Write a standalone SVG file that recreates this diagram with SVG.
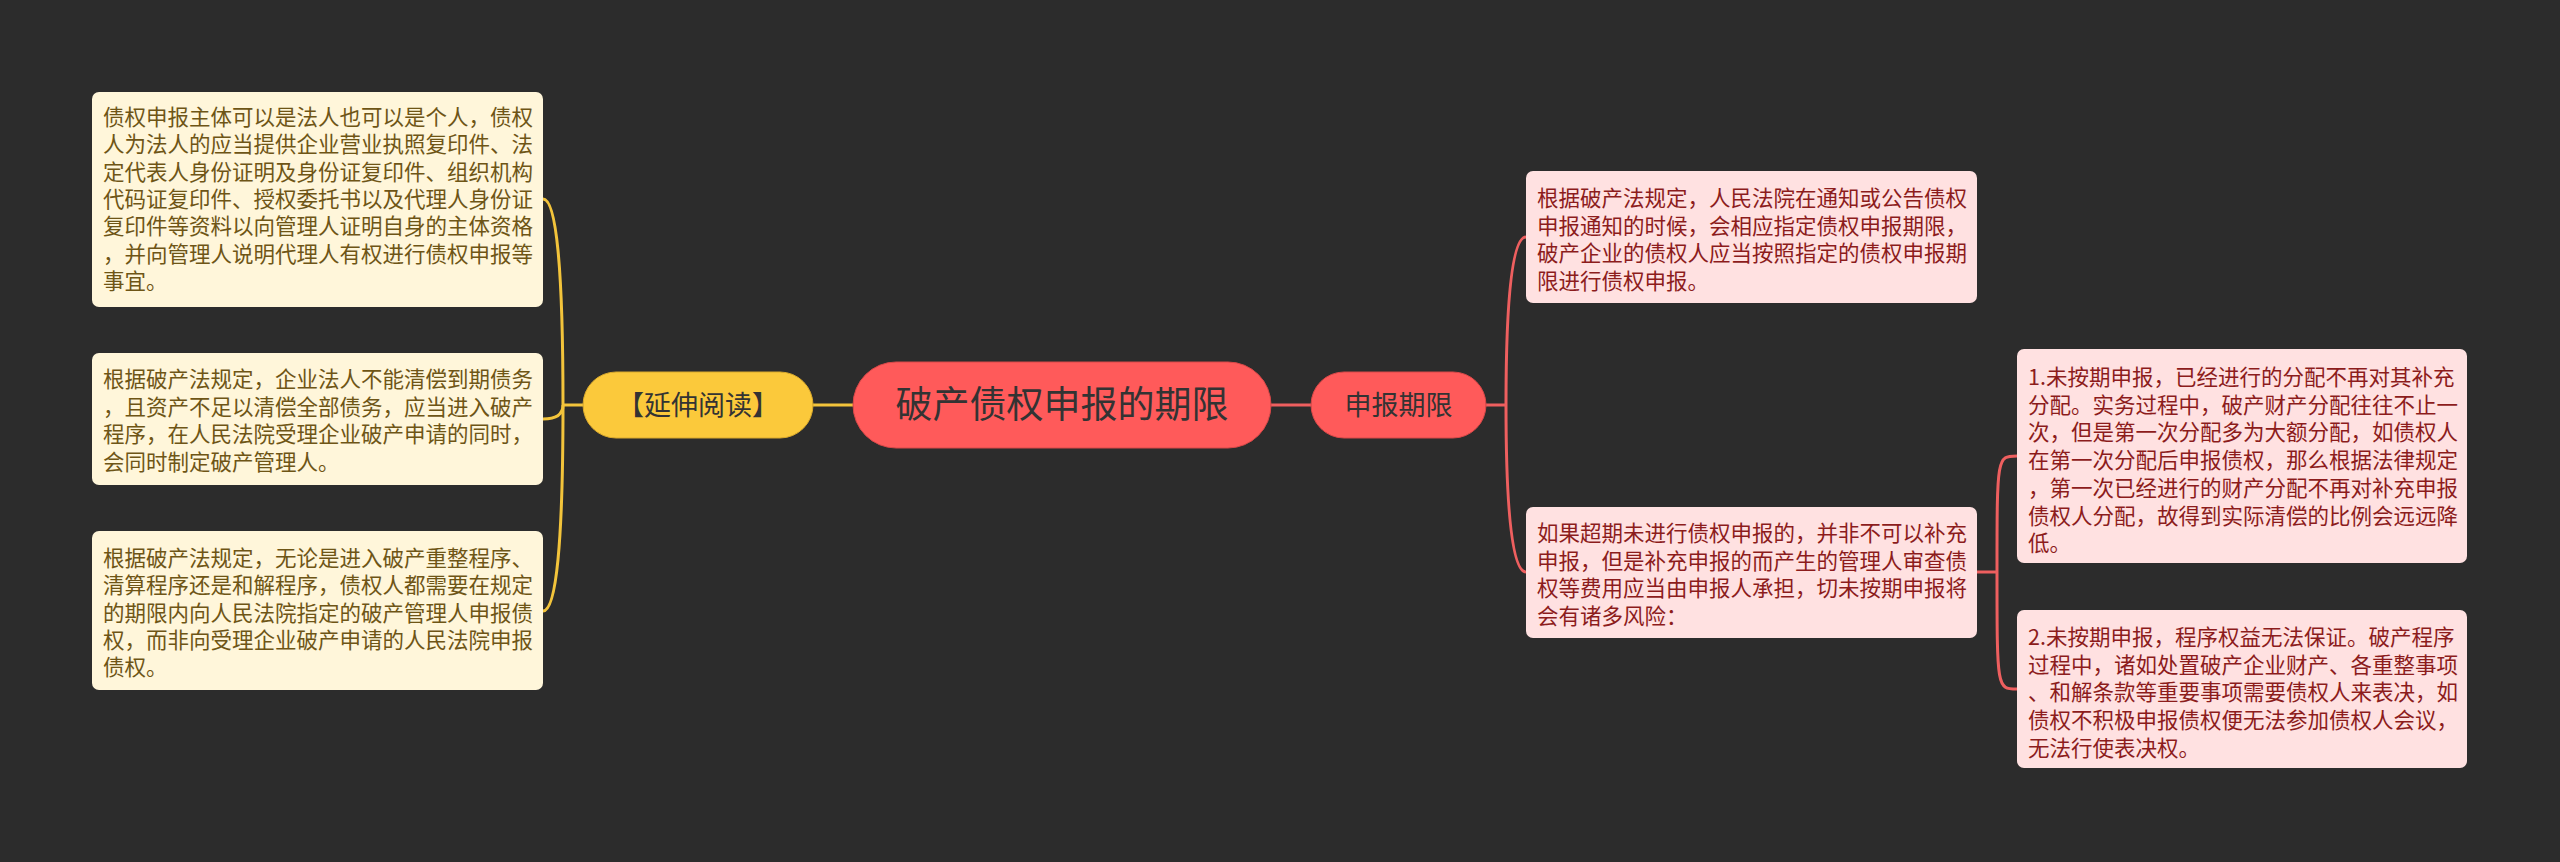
<svg xmlns="http://www.w3.org/2000/svg" width="2560" height="862" viewBox="0 0 2560 862">
<style>
.bg{fill:#2c2c2c}
.t{font-family:"Noto Sans CJK SC","Noto Sans",sans-serif}
.lbox{fill:#fff6da}
.ltx{fill:#6e5516;font-size:21.5px}
.rbox{fill:#ffe1e1}
.rtx{fill:#8c1c1c;font-size:21.5px}
.yl{fill:none;stroke:#f3c43b;stroke-width:3}
.rl{fill:none;stroke:#ee5f5f;stroke-width:3}
.node-text{fill:#333333;text-anchor:middle}
</style>
<rect class="bg" x="0" y="0" width="2560" height="862"/>
<g id="connectors">
<path class="yl" d="M813,405 L853,405"/>
<path class="yl" d="M583,405 L563,405"/>
<path class="yl" d="M563,405 Q563,199 543,199"/>
<path class="yl" d="M563,405 Q563,419 543,419"/>
<path class="yl" d="M563,405 Q563,611 543,611"/>
<path class="rl" d="M1271,405 L1311,405"/>
<path class="rl" d="M1486,405 L1506,405"/>
<path class="rl" d="M1506,405 Q1506,237 1526,237"/>
<path class="rl" d="M1506,405 Q1506,572 1526,572"/>
<path class="rl" d="M1977,572 L1997,572"/>
<path class="rl" d="M1997,572 C1997,456 1997,456 2017,456"/>
<path class="rl" d="M1997,572 C1997,689 1997,689 2017,689"/>
</g>
<g id="center">
<rect x="853" y="362" width="418" height="86" rx="43" fill="#ff5a5a" stroke="#d94848" stroke-width="1"/>
<text class="t node-text" x="1062" y="418" font-size="37">破产债权申报的期限</text>
</g>
<g id="extend">
<rect x="583" y="372" width="230" height="66" rx="33" fill="#fbc93b" stroke="#d9a92c" stroke-width="1"/>
<text class="t node-text" x="698" y="415" font-size="27">【延伸阅读】</text>
</g>
<g id="deadline">
<rect x="1311" y="372" width="175" height="66" rx="33" fill="#ff5a5a" stroke="#d94848" stroke-width="1"/>
<text class="t node-text" x="1398.5" y="415" font-size="27">申报期限</text>
</g>
<g id="left1">
<rect class="lbox" x="92" y="92" width="451" height="215" rx="7"/>
<text class="t ltx">
<tspan x="103" y="125">债权申报主体可以是法人也可以是个人，债权</tspan>
<tspan x="103" y="152.3">人为法人的应当提供企业营业执照复印件、法</tspan>
<tspan x="103" y="179.6">定代表人身份证明及身份证复印件、组织机构</tspan>
<tspan x="103" y="206.9">代码证复印件、授权委托书以及代理人身份证</tspan>
<tspan x="103" y="234.2">复印件等资料以向管理人证明自身的主体资格</tspan>
<tspan x="103" y="261.5">，并向管理人说明代理人有权进行债权申报等</tspan>
<tspan x="103" y="288.8">事宜。</tspan>
</text>
</g>
<g id="left2">
<rect class="lbox" x="92" y="353" width="451" height="132" rx="7"/>
<text class="t ltx">
<tspan x="103" y="387">根据破产法规定，企业法人不能清偿到期债务</tspan>
<tspan x="103" y="414.5">，且资产不足以清偿全部债务，应当进入破产</tspan>
<tspan x="103" y="442">程序，在人民法院受理企业破产申请的同时，</tspan>
<tspan x="103" y="469.5">会同时制定破产管理人。</tspan>
</text>
</g>
<g id="left3">
<rect class="lbox" x="92" y="531" width="451" height="159" rx="7"/>
<text class="t ltx">
<tspan x="103" y="566">根据破产法规定，无论是进入破产重整程序、</tspan>
<tspan x="103" y="593.3">清算程序还是和解程序，债权人都需要在规定</tspan>
<tspan x="103" y="620.6">的期限内向人民法院指定的破产管理人申报债</tspan>
<tspan x="103" y="647.9">权，而非向受理企业破产申请的人民法院申报</tspan>
<tspan x="103" y="675.2">债权。</tspan>
</text>
</g>
<g id="right1">
<rect class="rbox" x="1526" y="171" width="451" height="132" rx="7"/>
<text class="t rtx">
<tspan x="1537" y="206">根据破产法规定，人民法院在通知或公告债权</tspan>
<tspan x="1537" y="233.5">申报通知的时候，会相应指定债权申报期限，</tspan>
<tspan x="1537" y="261">破产企业的债权人应当按照指定的债权申报期</tspan>
<tspan x="1537" y="288.5">限进行债权申报。</tspan>
</text>
</g>
<g id="right2">
<rect class="rbox" x="1526" y="507" width="451" height="131" rx="7"/>
<text class="t rtx">
<tspan x="1537" y="541">如果超期未进行债权申报的，并非不可以补充</tspan>
<tspan x="1537" y="568.5">申报，但是补充申报的而产生的管理人审查债</tspan>
<tspan x="1537" y="596">权等费用应当由申报人承担，切未按期申报将</tspan>
<tspan x="1537" y="623.5">会有诸多风险：</tspan>
</text>
</g>
<g id="risk1">
<rect class="rbox" x="2017" y="349" width="450" height="214" rx="7"/>
<text class="t rtx">
<tspan x="2028" y="385">1.未按期申报，已经进行的分配不再对其补充</tspan>
<tspan x="2028" y="412.7">分配。实务过程中，破产财产分配往往不止一</tspan>
<tspan x="2028" y="440.4">次，但是第一次分配多为大额分配，如债权人</tspan>
<tspan x="2028" y="468.1">在第一次分配后申报债权，那么根据法律规定</tspan>
<tspan x="2028" y="495.8">，第一次已经进行的财产分配不再对补充申报</tspan>
<tspan x="2028" y="523.5">债权人分配，故得到实际清偿的比例会远远降</tspan>
<tspan x="2028" y="551.2">低。</tspan>
</text>
</g>
<g id="risk2">
<rect class="rbox" x="2017" y="610" width="450" height="158" rx="7"/>
<text class="t rtx">
<tspan x="2028" y="645">2.未按期申报，程序权益无法保证。破产程序</tspan>
<tspan x="2028" y="672.7">过程中，诸如处置破产企业财产、各重整事项</tspan>
<tspan x="2028" y="700.4">、和解条款等重要事项需要债权人来表决，如</tspan>
<tspan x="2028" y="728.1">债权不积极申报债权便无法参加债权人会议，</tspan>
<tspan x="2028" y="755.8">无法行使表决权。</tspan>
</text>
</g>
</svg>
